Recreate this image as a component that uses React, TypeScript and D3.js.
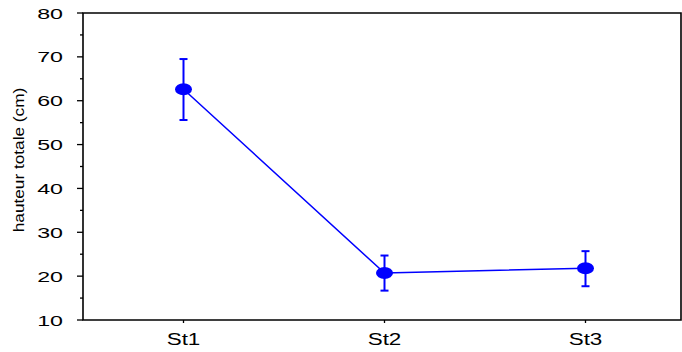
import React from 'react';
import * as d3 from 'd3';

// values
const stations = ['St1', 'St2', 'St3'];
const means = [62.6, 20.7, 21.8];
const upper = [69.5, 24.7, 25.7];
const lower = [55.6, 16.7, 17.7];
const yTicks = [10, 20, 30, 40, 50, 60, 70, 80];

const W = 682, H = 352;
const left = 83, right = 681, top = 13, bottom = 320;
const BLUE = '#0000ff';
const FONT = 'Liberation Sans, Arial, sans-serif';

export default function App() {
  const x = d3.scalePoint<string>().domain(stations).range([left, 686]).padding(0.5);
  const y = d3.scaleLinear().domain([10, 80]).range([bottom, top]);
  const minor = d3.range(15, 80, 10);

  const pts = stations.map((s, i) => ({ s, m: means[i], hi: upper[i], lo: lower[i] }));
  const line = d3.line<typeof pts[0]>().x(d => x(d.s)!).y(d => y(d.m));

  return (
    <svg width={W} height={H} style={{ position: 'absolute', left: 0, top: 0 }}>
      <rect width={W} height={H} fill="white" />

      {/* frame */}
      <path d={`M${left},${top}H${right}V${bottom}H${left}Z`} fill="none" stroke="black" strokeWidth={1.6} />

      {/* y ticks */}
      {yTicks.map(t => (
        <g key={t}>
          <line x1={left - 6} x2={left} y1={y(t)} y2={y(t)} stroke="black" strokeWidth={1.3} />
          <text
            transform={`translate(${left - 20},${y(t) + 5.5}) scale(1.6,1)`}
            textAnchor="end" fontFamily={FONT} fontSize={14.5} fill="black">{t}</text>
        </g>
      ))}
      {minor.map(t => (
        <line key={t} x1={left - 3} x2={left} y1={y(t)} y2={y(t)} stroke="black" strokeWidth={1.3} />
      ))}

      {/* x ticks */}
      {stations.map(s => (
        <g key={s}>
          <line x1={x(s)} x2={x(s)} y1={bottom} y2={bottom + 3} stroke="black" strokeWidth={1.3} />
          <text
            transform={`translate(${x(s)},${bottom + 25}) scale(1.4,1)`}
            textAnchor="middle" fontFamily={FONT} fontSize={16} fill="black">{s}</text>
        </g>
      ))}

      {/* y label */}
      <text
        transform={`translate(24,160) rotate(-90) scale(1.23,1)`}
        textAnchor="middle" fontFamily={FONT} fontSize={14} fill="black">hauteur totale (cm)</text>

      {/* series */}
      <path d={line(pts)!} fill="none" stroke={BLUE} strokeWidth={1.5} />
      {pts.map(d => (
        <g key={d.s}>
          <line x1={x(d.s)} x2={x(d.s)} y1={y(d.hi)} y2={y(d.lo)} stroke={BLUE} strokeWidth={2} />
          <line x1={x(d.s)! - 4} x2={x(d.s)! + 4} y1={y(d.hi)} y2={y(d.hi)} stroke={BLUE} strokeWidth={2} />
          <line x1={x(d.s)! - 4} x2={x(d.s)! + 4} y1={y(d.lo)} y2={y(d.lo)} stroke={BLUE} strokeWidth={2} />
          <ellipse cx={x(d.s)} cy={y(d.m)} rx={8.5} ry={6} fill={BLUE} />
        </g>
      ))}
    </svg>
  );
}
